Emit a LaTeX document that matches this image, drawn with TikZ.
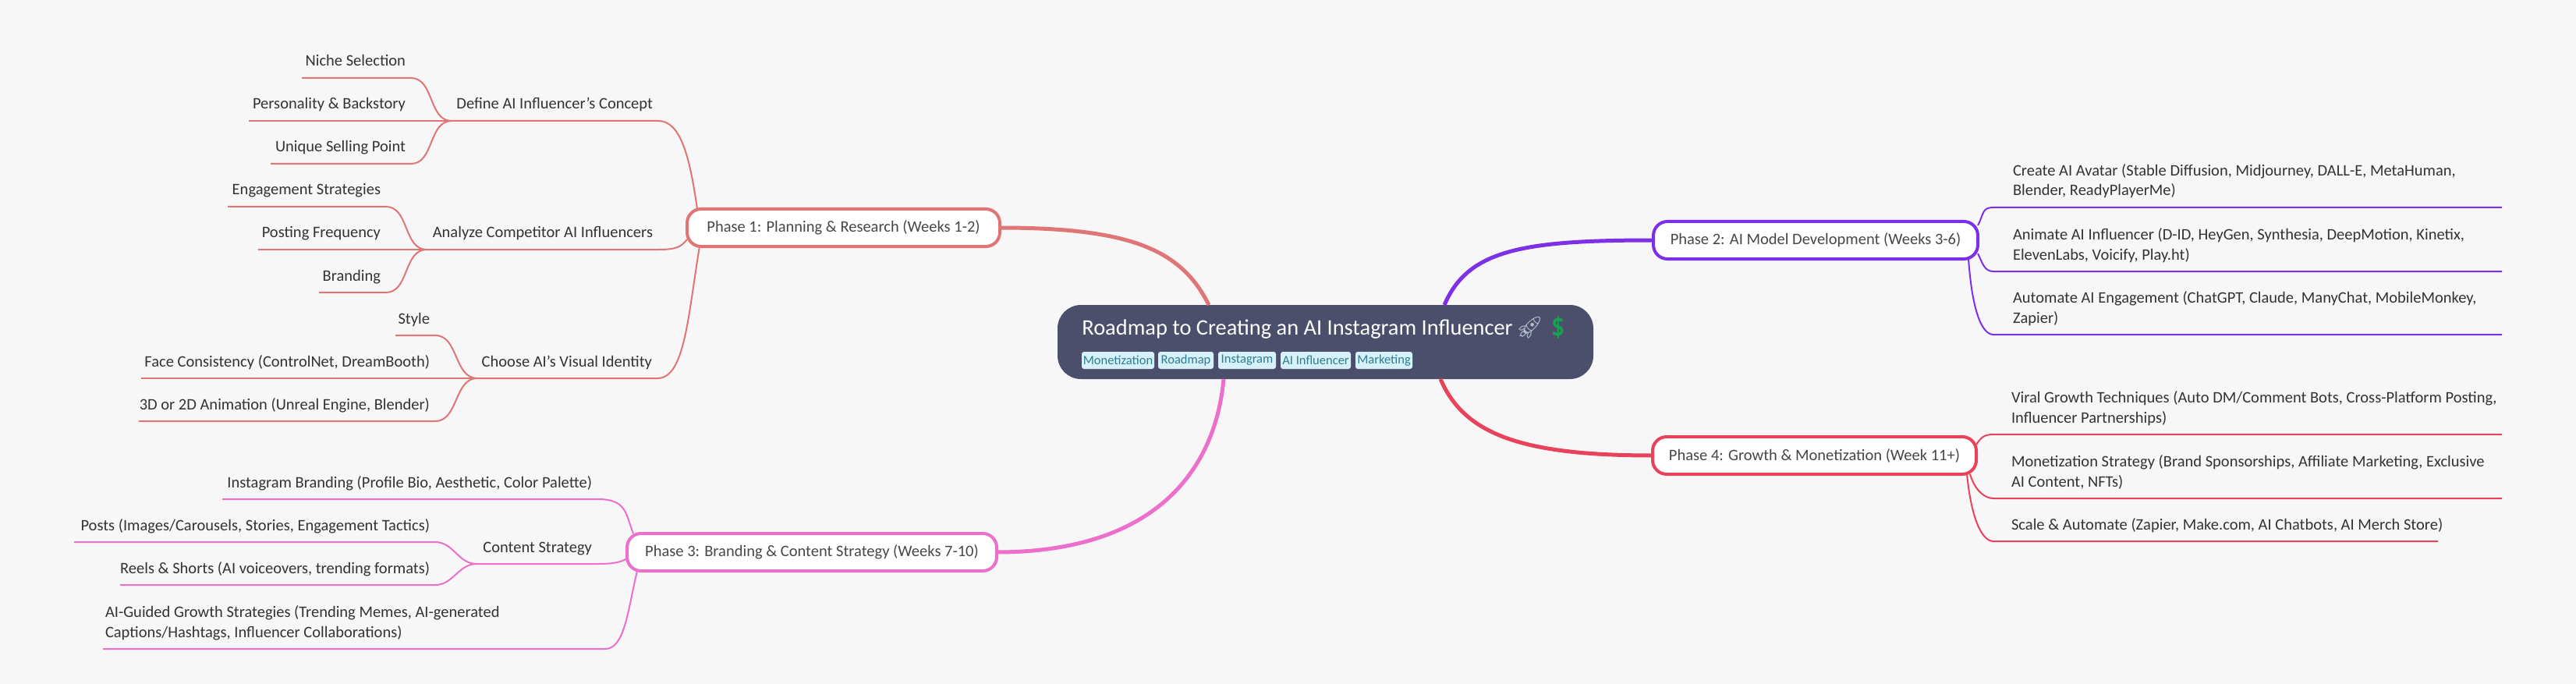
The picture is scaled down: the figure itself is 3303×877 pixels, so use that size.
\documentclass[tikz,border=0pt]{standalone}
\usepackage{fontspec}
\setmainfont{Carlito}
\newfontfamily\emojifont{Noto Emoji}
\usepackage{xcolor}
\usetikzlibrary{positioning}

\definecolor{pagegray}{HTML}{F7F7F7}
\definecolor{rootblue}{HTML}{4C4F6B}
\definecolor{tagfill}{HTML}{D6F1F8}
\definecolor{tagtext}{HTML}{2F7D95}
\definecolor{inktext}{HTML}{333333}
\definecolor{rocketgray}{HTML}{B4BECC}
\definecolor{dollargreen}{HTML}{14A44D}
\definecolor{salmon}{HTML}{E07575}
\definecolor{violet}{HTML}{7C30E8}
\definecolor{orchid}{HTML}{EC6FCC}
\definecolor{crimson}{HTML}{E8435A}

\tikzset{
  leaffont/.style={font=\fontsize{10.25}{13}\selectfont, text=inktext},
  leafleft/.style={leaffont, anchor=south east, text depth=0pt, inner ysep=7.5pt, inner xsep=3.5pt, outer sep=0pt},
  leafright/.style={leaffont, anchor=south west, align=left, text depth=0pt, inner ysep=7.5pt, inner xsep=0pt, outer sep=0pt},
  phasebox/.style={draw=#1, line width=2pt, fill=white, rounded corners=9pt, minimum height=24pt,
    outer sep=0pt, text=inktext!90!white, font=\fontsize{10.25}{13}\selectfont},
  tagbox/.style={fill=tagfill, text=tagtext, rounded corners=1.5pt, minimum height=11pt, inner xsep=0pt,
    inner ysep=0pt, outer sep=0pt, font=\fontsize{8.25}{10}\selectfont},
  thinline/.style={draw=#1, line width=1pt},
  mainline/.style={draw=#1, line width=2.5pt},
}

\begin{document}
\begin{tikzpicture}[x=0.5pt, y=-0.5pt]
  \fill[pagegray] (0,0) rectangle (3303,877);

  \node[fill=rootblue, rounded corners=15pt, minimum width=343.5pt, minimum height=47.5pt, outer sep=0pt] (root) at (1699.5,438.5) {};
  \node[anchor=base west, inner sep=0pt, text=white, font=\fontsize{14.2}{18}\selectfont] (title) at (1387,429)
    {Roadmap to Creating an AI Instagram Influencer\hspace{2pt}{\emojifont\fontsize{14}{18}\selectfont\textcolor{rocketgray}{🚀}\hspace{0.5pt}\textcolor{dollargreen}{💲}}};
  \node[tagbox, anchor=north west, minimum width=46.5pt] (tagmoney) at (1387,451) {Monetization};
  \node[tagbox, right=2.5pt of tagmoney, minimum width=35.5pt] (tagroad) {Roadmap};
  \node[tagbox, right=3pt of tagroad, minimum width=37pt] (tagsta) {Instagram};
  \node[tagbox, right=3pt of tagsta, minimum width=45pt] (tagai) {AI Influencer};
  \node[tagbox, right=3pt of tagai, minimum width=36.5pt] (tagmark) {Marketing};

  \node[phasebox=salmon, minimum width=200.5pt] (phaseone) at (1081.5,292) {Phase 1: Planning \& Research (Weeks 1-2)};
  \node[phasebox=violet, minimum width=208pt] (phasetwo) at (2328,308) {Phase 2: AI Model Development (Weeks 3-6)};
  \node[phasebox=orchid, minimum width=237pt] (phasethree) at (1041,708) {Phase 3: Branding \& Content Strategy (Weeks 7-10)};
  \node[phasebox=crimson, minimum width=207.5pt] (phasefour) at (2326.5,584) {Phase 4: Growth \& Monetization (Week 11+)};

  \coordinate (definehub) at (579,155);
  \coordinate (analyzehub) at (547,320);
  \coordinate (choosehub) at (612,485);
  \coordinate (contenthub) at (611,723);

  \node[leafleft] (define) at (844,155) {Define AI Influencer's Concept};
  \node[leafleft] (niche) at (527,100) {Niche Selection};
  \node[leafleft] (persona) at (527,155) {Personality \& Backstory};
  \node[leafleft] (sellpoint) at (527,210) {Unique Selling Point};
  \node[leafleft] (analyze) at (844,320) {Analyze Competitor AI Influencers};
  \node[leafleft] (engage) at (495,265) {Engagement Strategies};
  \node[leafleft] (posting) at (495,320) {Posting Frequency};
  \node[leafleft] (branding) at (495,375) {Branding};
  \node[leafleft] (choose) at (843,485) {Choose AI's Visual Identity};
  \node[leafleft] (visstyle) at (558,430) {Style};
  \node[leafleft] (face) at (558,485) {Face Consistency (ControlNet, DreamBooth)};
  \node[leafleft] (anim) at (558,540) {3D or 2D Animation (Unreal Engine, Blender)};

  \node[leafleft] (instabrand) at (766,640) {Instagram Branding (Profile Bio, Aesthetic, Color Palette)};
  \node[leafleft] (content) at (766,723) {Content Strategy};
  \node[leafleft] (posts) at (558,695) {Posts (Images/Carousels, Stories, Engagement Tactics)};
  \node[leafleft] (reels) at (558,750) {Reels \& Shorts (AI voiceovers, trending formats)};
  \node[leafright] (guided) at (135,832) {AI-Guided Growth Strategies (Trending Memes, AI-generated\\Captions/Hashtags, Influencer Collaborations)};
  \coordinate (guidedend) at (776,832);

  \coordinate (avatarstart) at (2556,266);
  \coordinate (animatestart) at (2556,348);
  \coordinate (automatestart) at (2556,429);
  \coordinate (avatarend) at (3208,266);
  \coordinate (animateend) at (3208,348);
  \coordinate (automateend) at (3208,429);
  \node[leafright] (avatar) at (2581,266) {Create AI Avatar (Stable Diffusion, Midjourney, DALL-E, MetaHuman,\\Blender, ReadyPlayerMe)};
  \node[leafright] (animate) at (2581,348) {Animate AI Influencer (D-ID, HeyGen, Synthesia, DeepMotion, Kinetix,\\ElevenLabs, Voicify, Play.ht)};
  \node[leafright] (automate) at (2581,429) {Automate AI Engagement (ChatGPT, Claude, ManyChat, MobileMonkey,\\Zapier)};

  \coordinate (viralstart) at (2556,557);
  \coordinate (moneystart) at (2556,639);
  \coordinate (scalestart) at (2556,694);
  \coordinate (viralend) at (3208,557);
  \coordinate (moneyend) at (3208,639);
  \coordinate (scaleend) at (3126,694);
  \node[leafright] (viral) at (2579,557) {Viral Growth Techniques (Auto DM/Comment Bots, Cross-Platform Posting,\\Influencer Partnerships)};
  \node[leafright] (money) at (2579,639) {Monetization Strategy (Brand Sponsorships, Affiliate Marketing, Exclusive\\AI Content, NFTs)};
  \node[leafright] (scale) at (2579,694) {Scale \& Automate (Zapier, Make.com, AI Chatbots, AI Merch Store)};

  \draw[mainline=salmon] (phaseone.east) .. controls +(170,0) and +(-35,-70) .. ([xshift=-74.75pt]root.north);
  \draw[mainline=violet] (phasetwo.west) .. controls +(-170,0) and +(30,-70) .. ([xshift=76.25pt]root.north);
  \draw[mainline=orchid] (phasethree.east) .. controls +(210,0) and +(-10,110) .. ([xshift=-65.25pt]root.south);
  \draw[mainline=crimson] (phasefour.west) .. controls +(-170,0) and +(30,70) .. ([xshift=73.75pt]root.south);

  \draw[thinline=salmon] (definehub) -- (define.south east) .. controls +(28,0) and +(-10,-70) .. ([xshift=6.5pt]phaseone.north west);
  \draw[thinline=salmon] (analyzehub) -- (analyze.south east) .. controls +(22,0) and +(-8,10) .. ([yshift=-7.5pt]phaseone.west);
  \draw[thinline=salmon] (choosehub) -- (choose.south east) .. controls +(35,0) and +(-15,90) .. ([xshift=8pt]phaseone.south west);
  \draw[thinline=salmon] (niche.south east) ++(-140,0) -- (niche.south east) to[out=0,in=180] (definehub);
  \draw[thinline=salmon] (persona.south east) ++(-208,0) -- (definehub);
  \draw[thinline=salmon] (sellpoint.south east) ++(-180,0) -- (sellpoint.south east) to[out=0,in=180] (definehub);
  \draw[thinline=salmon] (engage.south east) ++(-203,0) -- (engage.south east) to[out=0,in=180] (analyzehub);
  \draw[thinline=salmon] (posting.south east) ++(-164,0) -- (analyzehub);
  \draw[thinline=salmon] (branding.south east) ++(-86,0) -- (branding.south east) to[out=0,in=180] (analyzehub);
  \draw[thinline=salmon] (visstyle.south east) ++(-51,0) -- (visstyle.south east) to[out=0,in=180] (choosehub);
  \draw[thinline=salmon] (face.south east) ++(-377,0) -- (choosehub);
  \draw[thinline=salmon] (anim.south east) ++(-380,0) -- (anim.south east) to[out=0,in=180] (choosehub);

  \draw[thinline=orchid] (instabrand.south east) ++(-481,0) -- (instabrand.south east) .. controls +(38,0) and +(-10,-25) .. ([xshift=4pt]phasethree.north west);
  \draw[thinline=orchid] (contenthub) -- (content.south east) .. controls +(20,0) and +(-8,5) .. ([yshift=-4pt]phasethree.west);
  \draw[thinline=orchid] (guided.south west) ++(-3,0) -- (guidedend) .. controls +(25,0) and +(-12,50) .. ([xshift=6.5pt]phasethree.south west);
  \draw[thinline=orchid] (posts.south east) ++(-463,0) -- (posts.south east) to[out=0,in=180] (contenthub);
  \draw[thinline=orchid] (reels.south east) ++(-404,0) -- (reels.south east) to[out=0,in=180] (contenthub);

  \draw[thinline=violet] ([yshift=9.5pt]phasetwo.east) .. controls +(8,-15) and +(-15,0) .. (avatarstart) -- (avatarend);
  \draw[thinline=violet] ([yshift=-8.5pt]phasetwo.east) .. controls +(6,12) and +(-12,0) .. (animatestart) -- (animateend);
  \draw[thinline=violet] ([xshift=-6pt]phasetwo.south east) .. controls +(5,70) and +(-14,0) .. (automatestart) -- (automateend);

  \draw[thinline=crimson] ([yshift=7pt]phasefour.east) .. controls +(6,-9) and +(-12,0) .. (viralstart) -- (viralend);
  \draw[thinline=crimson] ([xshift=-4pt]phasefour.south east) .. controls +(6,20) and +(-12,0) .. (moneystart) -- (moneyend);
  \draw[thinline=crimson] ([xshift=-6pt]phasefour.south east) .. controls +(6,60) and +(-14,0) .. (scalestart) -- (scaleend);
\end{tikzpicture}
\end{document}
